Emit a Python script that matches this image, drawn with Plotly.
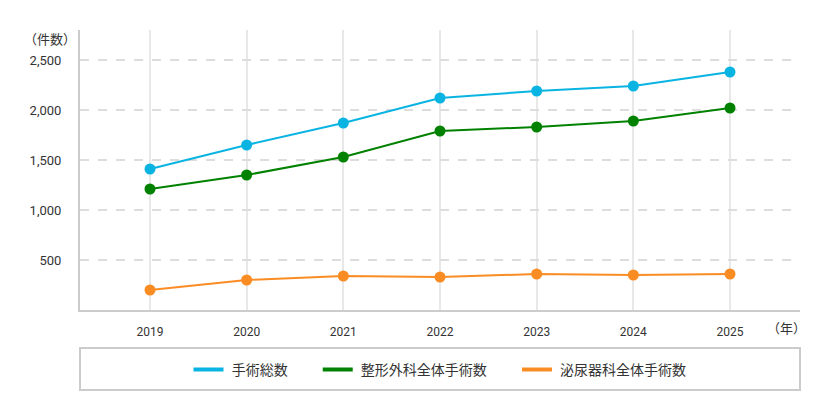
import plotly.graph_objects as go

years = ["2019", "2020", "2021", "2022", "2023", "2024", "2025"]
series_names = ["手術総数", "整形外科全体手術数", "泌尿器科全体手術数"]
total_ops = [1410, 1650, 1870, 2120, 2190, 2240, 2380]
ortho_ops = [1210, 1350, 1530, 1790, 1830, 1890, 2020]
uro_ops = [200, 300, 340, 330, 360, 350, 360]
y_ticks = [500, 1000, 1500, 2000, 2500]
y_tick_labels = ["500", "1,000", "1,500", "2,000", "2,500"]

colors = ["#0ab4e2", "#008200", "#fa8c24"]
FONT = "Noto Sans CJK JP"
NUM_FONT = "Liberation Sans Narrow, Roboto, sans-serif"
NBSP = "\u00a0"

fig = go.Figure()
for name, vals, c in zip(series_names, [total_ops, ortho_ops, uro_ops], colors):
    fig.add_trace(go.Scatter(
        x=years, y=vals, mode="lines+markers", name=name,
        line=dict(color=c, width=2), marker=dict(color=c, size=11),
        showlegend=False, hoverinfo="x+y"))
for i, (name, c) in enumerate(zip(series_names, colors)):
    pad_right = NBSP * 8 if i < len(series_names) - 1 else ""
    fig.add_trace(go.Scatter(
        x=[None], y=[None], mode="lines", name=NBSP + name + pad_right,
        line=dict(color=c, width=4), showlegend=True, hoverinfo="skip"))

fig.update_layout(
    width=824, height=404,
    margin=dict(l=72, r=32, t=22, b=102),
    paper_bgcolor="white", plot_bgcolor="white",
    font=dict(family=FONT, size=12, color="#333333"),
    xaxis=dict(
        type="category", range=[-0.724, 6.724],
        showgrid=True, gridcolor="#e8e8e8", gridwidth=2,
        showline=True, linecolor="#cccccc", linewidth=2,
        ticks="", ticklabelstandoff=10,
        tickfont=dict(family=NUM_FONT, size=12, color="#333333"),
        zeroline=False, fixedrange=True),
    yaxis=dict(
        range=[0, 2800], tickvals=y_ticks, ticktext=y_tick_labels,
        showgrid=True, gridcolor="#dddddd", gridwidth=1.5, griddash="dash",
        showline=True, linecolor="#cccccc", linewidth=2,
        ticks="", ticklabelstandoff=14,
        tickfont=dict(family=NUM_FONT, size=13, color="#333333"),
        zeroline=False, fixedrange=True),
    legend=dict(
        orientation="h", x=0.5, xanchor="center", y=-0.2143, yanchor="middle",
        bgcolor="rgba(0,0,0,0)", borderwidth=0,
        font=dict(family=FONT, size=14, color="#333333"),
        traceorder="normal"),
    shapes=[dict(type="rect", xref="paper", yref="paper",
                 x0=0, x1=1, y0=-0.1357, y1=-0.2857,
                 line=dict(color="#cccccc", width=2), fillcolor="rgba(0,0,0,0)")],
    annotations=[
        dict(text="（件数）", xref="paper", yref="paper", x=0, y=1,
             xanchor="right", yanchor="middle", xshift=-2, yshift=-8,
             showarrow=False, font=dict(family=FONT, size=13, color="#333333")),
        dict(text="（年）", xref="paper", yref="paper", x=1, y=0,
             xanchor="right", yanchor="middle", xshift=8, yshift=-17,
             showarrow=False, font=dict(family=FONT, size=13, color="#333333")),
    ],
)

fig.write_html("out.html")
